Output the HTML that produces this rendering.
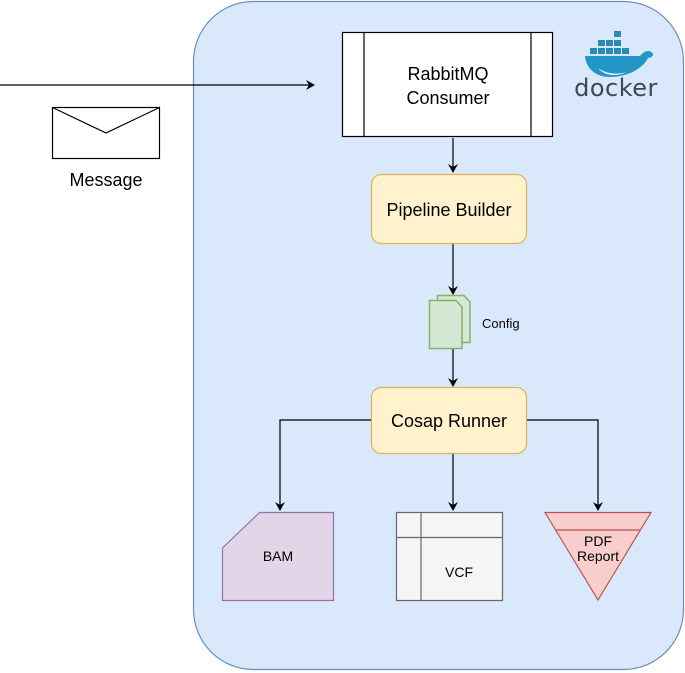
<!DOCTYPE html>
<html><head><meta charset="utf-8"><style>
html,body{margin:0;padding:0;background:#fff;}
svg{display:block;font-family:"Liberation Sans",Arial,sans-serif;}
</style></head><body>
<svg width="685" height="673" viewBox="0 0 685 673" xmlns="http://www.w3.org/2000/svg">
<defs><marker id="a" markerWidth="10" markerHeight="10" refX="8" refY="5" orient="auto" markerUnits="userSpaceOnUse"><path d="M0,0 L9,5 L0,10 L3,5 Z" fill="#000"/></marker></defs>
<rect x="193.5" y="1.5" width="490" height="668" rx="60" fill="#dae8fc" stroke="#6c8ebf" stroke-width="1.2"/>
<line x1="0" y1="85" x2="314" y2="85" stroke="#000" stroke-width="1.2" marker-end="url(#a)"/>
<rect x="52.5" y="107.5" width="107" height="51" fill="#fff" stroke="#000" stroke-width="1.2"/>
<path d="M52.5,107.5 L106,133 L159.5,107.5" fill="none" stroke="#000" stroke-width="1.2"/>
<text x="106" y="186" font-size="18" text-anchor="middle">Message</text>
<rect x="342.5" y="32.5" width="210" height="104" fill="#fff" stroke="#000" stroke-width="1.2"/>
<line x1="364" y1="32.5" x2="364" y2="136.5" stroke="#000" stroke-width="1.2"/>
<line x1="531" y1="32.5" x2="531" y2="136.5" stroke="#000" stroke-width="1.2"/>
<text x="448" y="80" font-size="18" text-anchor="middle">RabbitMQ</text>
<text x="448" y="104" font-size="18" text-anchor="middle">Consumer</text>
<g>
<rect x="598" y="40" width="7" height="6" fill="#2a8bb5"/><rect x="606" y="40" width="7" height="6" fill="#2a8bb5"/>
<rect x="614" y="31" width="7" height="6" fill="#2a8bb5"/><rect x="614" y="40" width="7" height="6" fill="#2a8bb5"/>
<rect x="606" y="48" width="7" height="6" fill="#2a8bb5"/><rect x="614" y="48" width="7" height="6" fill="#2a8bb5"/><rect x="622" y="48" width="7" height="6" fill="#2a8bb5"/><rect x="598" y="48" width="7" height="6" fill="#2a8bb5"/><rect x="590" y="48" width="7" height="6" fill="#2a8bb5"/>
<path d="M585,56 L640,56 C645,50 650,50 652,53 C655,54 652,58 648,58 C642,70 625,77 610,77 C595,77 586,68 585,56 Z" fill="#2396c8"/>
<path d="M598,68 C606,74 618,75 626,72 C618,77 604,76 598,68Z" fill="#e8f4f8"/>
<text x="616" y="96" font-size="24" fill="#3d4a52" text-anchor="middle" font-family="DejaVu Sans,sans-serif" letter-spacing="0.5">docker</text>
</g>
<line x1="453" y1="138" x2="453" y2="172" stroke="#000" stroke-width="1.2" marker-end="url(#a)"/>
<line x1="453" y1="243" x2="453" y2="294" stroke="#000" stroke-width="1.2" marker-end="url(#a)"/>
<line x1="453" y1="349" x2="453" y2="386" stroke="#000" stroke-width="1.2" marker-end="url(#a)"/>
<rect x="371.5" y="174.5" width="155" height="69" rx="10" fill="#fff2cc" stroke="#d6b656" stroke-width="1.2"/>
<text x="449" y="216" font-size="18" text-anchor="middle">Pipeline Builder</text>
<path d="M437.5,295.5 L464,295.5 L470,302 L470,342.5 L437.5,342.5 Z" fill="#d5e8d4" stroke="#82b366" stroke-width="1.5"/>
<path d="M429.5,300.5 L456,300.5 L462,307 L462,348.5 L429.5,348.5 Z" fill="#d5e8d4" stroke="#82b366" stroke-width="1.5"/>
<text x="482" y="328" font-size="13">Config</text>
<rect x="371.5" y="387.5" width="155" height="66" rx="10" fill="#fff2cc" stroke="#d6b656" stroke-width="1.2"/>
<text x="449" y="427" font-size="18" text-anchor="middle">Cosap Runner</text>
<polyline points="371,420 280,420 280,510" fill="none" stroke="#000" stroke-width="1.2" marker-end="url(#a)"/>
<line x1="453" y1="454" x2="453" y2="510" stroke="#000" stroke-width="1.2" marker-end="url(#a)"/>
<polyline points="527,420 598,420 598,510" fill="none" stroke="#000" stroke-width="1.2" marker-end="url(#a)"/>
<path d="M259.5,512.5 L333.5,512.5 L333.5,600.5 L222.5,600.5 L222.5,548 Z" fill="#e1d5e7" stroke="#9673a6" stroke-width="1.2"/>
<text x="278" y="561" font-size="14" text-anchor="middle">BAM</text>
<rect x="396.5" y="512.5" width="106" height="88" fill="#f5f5f5" stroke="#666" stroke-width="1.2"/>
<line x1="421" y1="512.5" x2="421" y2="600.5" stroke="#666" stroke-width="1.2"/>
<line x1="396.5" y1="537.5" x2="502.5" y2="537.5" stroke="#666" stroke-width="1.2"/>
<text x="459" y="577" font-size="14" text-anchor="middle">VCF</text>
<path d="M545,512.5 L651,512.5 L598,600 Z" fill="#f8cecc" stroke="#b85450" stroke-width="1.2"/>
<line x1="556" y1="530" x2="640" y2="530" stroke="#b85450" stroke-width="1.2"/>
<text x="598" y="546" font-size="14" text-anchor="middle">PDF</text>
<text x="598" y="561" font-size="14" text-anchor="middle">Report</text>
</svg>
</body></html>
